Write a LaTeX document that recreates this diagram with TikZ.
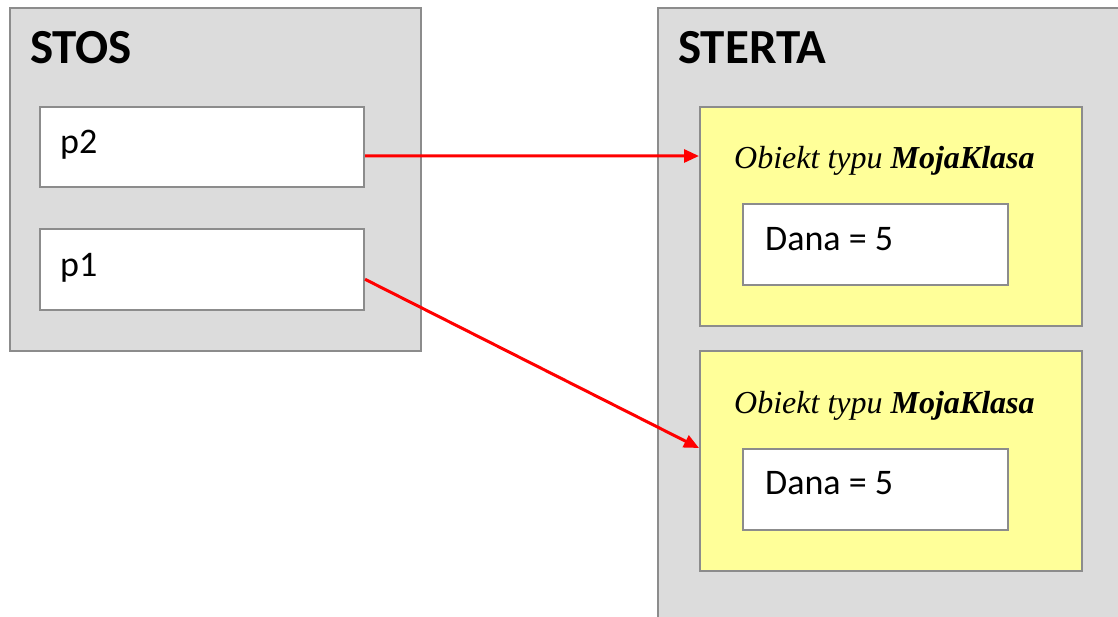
\documentclass[tikz,border=0pt]{standalone}
\usepackage{fontspec}
\setmainfont{Carlito}
\newfontfamily\timesfont{Liberation Serif}
\usetikzlibrary{arrows.meta}
\definecolor{boxgray}{HTML}{DCDCDC}
\definecolor{edgegray}{HTML}{8C8C8C}
\definecolor{objyellow}{HTML}{FFFF99}
\definecolor{arrred}{HTML}{FF0000}
\tikzset{
  panel/.style={draw=edgegray, line width=2pt, fill=boxgray, rectangle, anchor=north west, inner sep=0pt},
  slot/.style={draw=edgegray, line width=2pt, fill=white, rectangle, anchor=north west, inner sep=0pt},
  objbox/.style={draw=edgegray, line width=2pt, fill=objyellow, rectangle, anchor=north west, inner sep=0pt},
  title/.style={anchor=base west, inner sep=0pt, font=\fontsize{49}{56}\selectfont\bfseries},
  slottext/.style={anchor=base west, inner sep=0pt, font=\fontsize{36}{42}\selectfont},
  objtext/.style={anchor=base west, inner sep=0pt, font=\fontsize{32}{38}\selectfont\timesfont\itshape},
  ptr/.style={draw=arrred, line width=3pt, -{Triangle[length=15pt,width=13pt]}}
}
\begin{document}
\begin{tikzpicture}[x=1pt,y=-1pt]
\useasboundingbox (0,0) rectangle (1118,616);
\clip (0,0) rectangle (1118,616);
% STOS
\node[panel, minimum width=411pt, minimum height=343pt] (stos) at (9,7) {};
\node[title] (stostitle) at (30,63) {STOS};
\node[slot, minimum width=324.5pt, minimum height=80.5pt] (p2) at (38.5,105.5) {};
\node[slottext] (p2t) at (60,153) {p2};
\node[slot, minimum width=324.5pt, minimum height=80.5pt] (p1) at (38.5,228) {};
\node[slottext] (p1t) at (60,276) {p1};
% STERTA
\node[panel, minimum width=500pt, minimum height=650pt] (sterta) at (657,7) {};
\node[title] (stertatitle) at (678,63) {STERTA};
\node[objbox, minimum width=382pt, minimum height=219pt] (obj1) at (699,106) {};
\node[objtext] (obj1t) at (734,168) {Obiekt typu \textbf{MojaKlasa}};
\node[slot, minimum width=265pt, minimum height=81pt] (d1) at (742,203) {};
\node[slottext] (d1t) at (765,250) {Dana = 5};
\node[objbox, minimum width=382pt, minimum height=220pt] (obj2) at (699,350) {};
\node[objtext] (obj2t) at (734,413) {Obiekt typu \textbf{MojaKlasa}};
\node[slot, minimum width=265pt, minimum height=81pt] (d2) at (742,448) {};
\node[slottext] (d2t) at (765,494) {Dana = 5};
% pointers
\draw[ptr] ([yshift=-9pt]p2.east) -- ([yshift=60.5pt]obj1.west);
\draw[ptr] ([yshift=-10pt]p1.east) -- ([yshift=13pt]obj2.west);
\end{tikzpicture}
\end{document}
